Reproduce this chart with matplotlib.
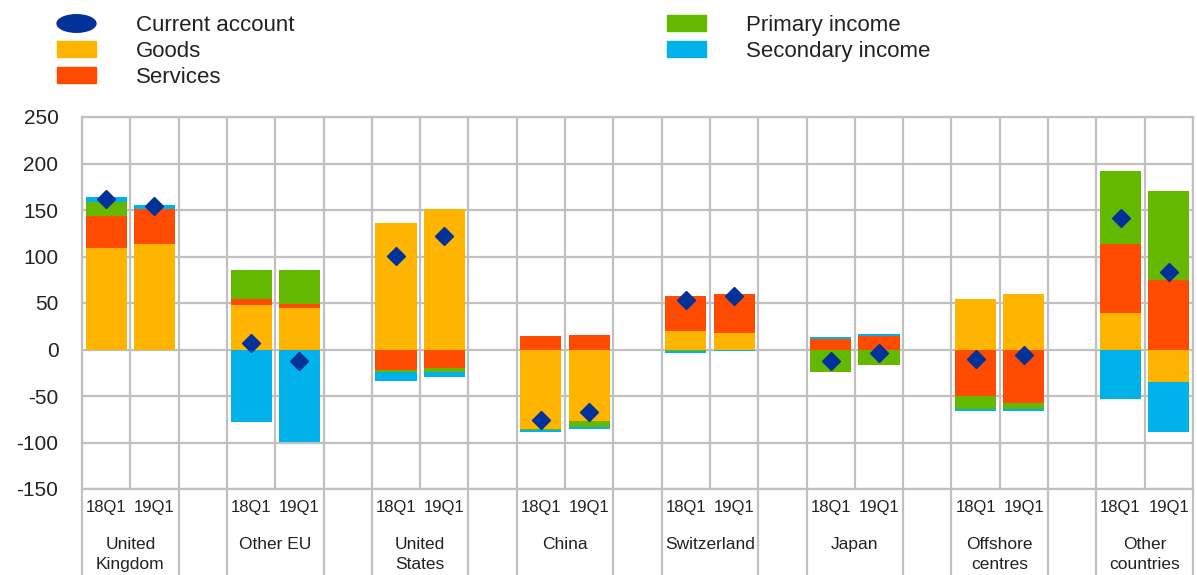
import numpy as np
import matplotlib
matplotlib.use("Agg")
import matplotlib.pyplot as plt
from matplotlib.lines import Line2D
from matplotlib.patches import Patch
from matplotlib.path import Path
from matplotlib.transforms import Affine2D

plt.rcParams['font.family'] = ['Liberation Sans', 'DejaVu Sans']
plt.rcParams['axes.unicode_minus'] = False

# categories
countries = ["United\nKingdom", "Other EU", "United\nStates", "China",
             "Switzerland", "Japan", "Offshore\ncentres", "Other\ncountries"]
periods = ["18Q1", "19Q1"]

# one value per bar: country by country, 18Q1 then 19Q1
goods = [109, 113, 48, 45, 136, 151, -85, -77, 20, 18, 0, 0, 54, 60, 39, -35]
services = [35, 38, 6, 4, -22, -20, 14, 16, 38, 42, 11, 14, -50, -58, 74, 75]
primary = [15, 0, 32, 36, -2, -4, -2, -6, -2, 0, -24, -17, -14, -6, 79, 95]
secondary = [5, 4, -78, -99, -10, -6, -2, -2, -2, -2, 2.5, 2.5, -2, -2, -53, -54]
current = [162, 154, 7, -12, 101, 122, -76, -67, 53, 57, -12, -4, -10, -6, 141, 83]

series = [("Goods", goods, "#FFB400"),
          ("Services", services, "#FF4B00"),
          ("Primary income", primary, "#65B800"),
          ("Secondary income", secondary, "#00B1EA")]
ca_color = "#003299"
grid_color = "#C0C0C0"
text_color = "#222222"

fig = plt.figure(figsize=(11.97, 5.75), dpi=100)
ax = fig.add_axes([82 / 1197, 86 / 575, 1111 / 1197, 372 / 575])

x = np.array([3 * g + p for g in range(len(countries)) for p in range(len(periods))])

pos_base = np.zeros(len(x))
neg_base = np.zeros(len(x))
for name, vals, col in series:
    v = np.array(vals, dtype=float)
    bottoms = np.where(v >= 0, pos_base, neg_base)
    ax.bar(x, v, bottom=bottoms, width=0.85, color=col, zorder=2)
    pos_base += np.clip(v, 0, None)
    neg_base += np.clip(v, None, 0)

ax.plot(x, current, linestyle="none", marker="D", markersize=9,
        color=ca_color, zorder=3)

ax.set_xlim(-0.5, 22.5)
ax.set_ylim(-150, 250)
ax.set_yticks(range(-150, 251, 50))
ax.set_xticks(np.arange(-0.5, 23, 1))
ax.set_xticklabels([])
ax.tick_params(length=0, labelsize=15, pad=17, labelcolor=text_color)
ax.grid(True, color=grid_color, linewidth=1.6)
ax.set_axisbelow(True)
for s in ax.spines.values():
    s.set_color(grid_color)
    s.set_linewidth(1.6)

# label table under the plot
trans = ax.get_xaxis_transform()
edges = []
for g in range(len(countries)):
    edges += [3 * g - 0.5, 3 * g + 1.5]
ax.vlines(edges, -0.235, 0, transform=trans, color=grid_color,
          linewidth=1.6, clip_on=False)
for xi, p in zip(x, periods * len(countries)):
    ax.text(xi, -0.051, p, transform=trans, ha="center", va="center",
            fontsize=12, color=text_color)
for g, c in enumerate(countries):
    ax.text(3 * g + 0.5, -0.13, c, transform=trans, ha="center", va="top",
            fontsize=12.5, color=text_color, linespacing=1.4)

# legend
ellipse = Path.unit_circle().transformed(Affine2D().scale(1.0, 0.45))
handles = [Line2D([], [], linestyle="none", marker=ellipse, markersize=28,
                  color=ca_color),
           Patch(color=series[0][2]), Patch(color=series[1][2]),
           Patch(color=series[2][2]), Patch(color=series[3][2])]
labels = ["Current account", "Goods", "Services",
          "Primary income", "Secondary income"]
fig.legend(handles, labels, loc="upper left", ncol=2,
           bbox_to_anchor=(57 / 1197, 1 - 15 / 575), frameon=False,
           fontsize=16, borderpad=0, borderaxespad=0, handlelength=1.75,
           handleheight=0.75, handletextpad=1.8, labelspacing=0.22,
           columnspacing=16.75, labelcolor=text_color)

fig.savefig("out.png", dpi=100)
